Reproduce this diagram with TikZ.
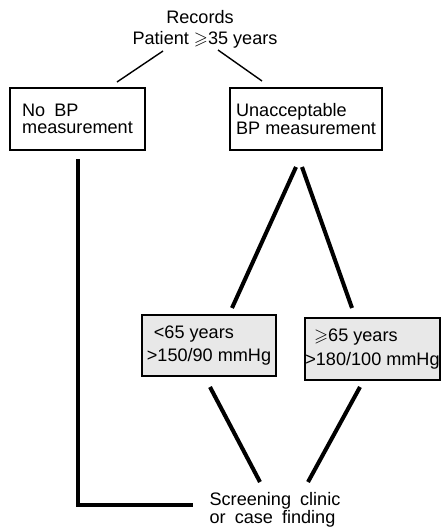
\documentclass[tikz,border=0pt]{standalone}
\usepackage{amssymb}
\usepackage{fontspec}
\setmainfont{Liberation Sans}
\usetikzlibrary{positioning}

\begin{document}
\begin{tikzpicture}[x=0.02cm,y=-0.02cm,
  every node/.style={font=\fontsize{10.3}{10.5}\selectfont,inner sep=0pt},
  plainbox/.style={rectangle,draw,line width=0.8pt,align=left,font=\fontsize{10.3}{9.8}\selectfont},
  dotbox/.style={rectangle,draw,line width=0.8pt,fill=black!9,align=left,font=\fontsize{10.3}{13.5}\selectfont},
  thinline/.style={line width=0.8pt},
  thickline/.style={line width=2.3pt}]
\useasboundingbox (0,0) rectangle (442,531);
\node (rec) at (200,17) {Records};
\node (pat) at (205,40) {Patient $\geqslant$35 years};
\node[plainbox,minimum width=2.7cm,minimum height=1.24cm] (nobp) at (77.5,119) {No\enspace BP\\measurement};
\node[plainbox,minimum width=3.04cm,minimum height=1.24cm] (unacc) at (306,119) {Unacceptable\\BP measurement};
\node[dotbox,minimum width=2.68cm,minimum height=1.22cm] (young) at (209,345.5) {\hspace{4pt}<65 years\\>150/90 mmHg};
\node[dotbox,minimum width=2.7cm,minimum height=1.24cm] (old) at (372.5,349) {\hspace{5pt}$\geqslant$65 years\\>180/100 mmHg};
\node[align=left] (clinic) at (275,510) {Screening\enspace clinic\\or\enspace case\enspace finding};
% free ends of the connectors
\coordinate (p1) at (163,51);  \coordinate (p2) at (117,82);
\coordinate (p3) at (218,50);  \coordinate (p4) at (262,81);
\coordinate (n1) at (78,159);  \coordinate (n2) at (78,505);  \coordinate (n3) at (193,505);
\coordinate (u1) at (296,167); \coordinate (u2) at (232,308);
\coordinate (u3) at (302,167); \coordinate (u4) at (352,308);
\coordinate (y1) at (210,387); \coordinate (y2) at (260,482);
\coordinate (o1) at (360,387); \coordinate (o2) at (308,482);
\draw[thinline] (p1)--(p2);
\draw[thinline] (p3)--(p4);
\draw[thickline] (n1)--(n2)--(n3);
\draw[thickline] (u1)--(u2);
\draw[thickline] (u3)--(u4);
\draw[thickline] (y1)--(y2);
\draw[thickline] (o1)--(o2);
\end{tikzpicture}
\end{document}
